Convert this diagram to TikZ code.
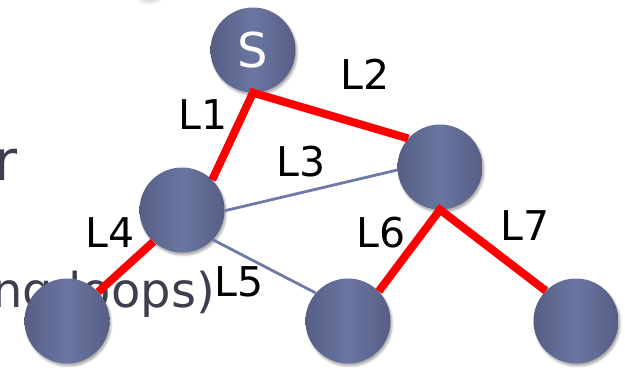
\documentclass[tikz,border=0pt]{standalone}
\usepackage{fontspec}
\setmainfont{DejaVu Sans}
\usetikzlibrary{shadows.blur}
\definecolor{nodeedge}{RGB}{86,94,132}
\definecolor{nodemid}{RGB}{106,118,162}
\definecolor{thinline}{RGB}{110,122,168}
\definecolor{bgtext}{RGB}{62,62,78}
\tikzset{
 netnode/.style={circle, minimum size=85pt, inner sep=0pt, left color=nodeedge, right color=nodeedge, middle color=nodemid,
   blur shadow={shadow xshift=1.5pt, shadow yshift=-2.5pt, shadow opacity=35, shadow blur steps=6}},
 redlink/.style={draw=red, line width=8pt, line join=miter},
 thinlink/.style={draw=thinline, line width=2.8pt},
 lbl/.style={font=\fontsize{41}{41}\selectfont, text=black, inner sep=0pt},
 bgtxt/.style={text=bgtext, inner sep=0pt}
}
\begin{document}
\begin{tikzpicture}[x=1pt,y=-1pt]
\useasboundingbox (0,0) rectangle (625,370);
\clip (0,0) rectangle (625,370);
\shade[inner color=gray!45, outer color=white] (149,-3) ellipse (15pt and 8pt);
\node[bgtxt, anchor=base west, font=\fontsize{56}{56}\selectfont] (rtxt) at (-6,180) {r};
\node[bgtxt, anchor=base east, font=\fontsize{48}{48}\selectfont] (loops) at (215,307) {ng loops)};
\node[netnode, text=white, font=\fontsize{48}{48}\selectfont] (S) at (253,50) {S};
\node[netnode] (n1) at (182,210) {};
\node[netnode] (n2) at (440,167) {};
\node[netnode] (n3) at (67,321) {};
\node[netnode] (n4) at (348,321) {};
\node[netnode] (n5) at (576,321) {};
\draw[thinlink] (n1.-1) -- (n2.184);
\draw[thinlink] (n1.-44) -- (n4.139);
\draw[redlink] (n1.45) -- (S.south) -- (n2.138);
\draw[redlink] (n1.228) -- (n3.43);
\draw[redlink] (n4.44) -- (n2.south) -- (n5.135);
\node[lbl] (l1) at (203,115) {L1};
\node[lbl] (l2) at (365,74) {L2};
\node[lbl] (l3) at (301,162) {L3};
\node[lbl] (l4) at (110,233) {L4};
\node[lbl] (l5) at (239,282) {L5};
\node[lbl] (l6) at (381,233) {L6};
\node[lbl] (l7) at (525,226) {L7};
\end{tikzpicture}
\end{document}
